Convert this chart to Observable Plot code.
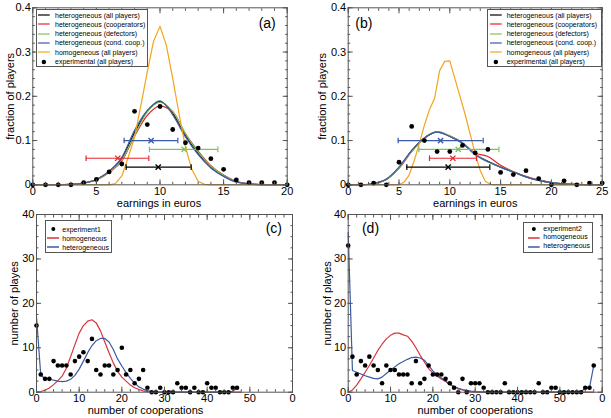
<!DOCTYPE html>
<html><head><meta charset="utf-8">
<script src="https://cdn.jsdelivr.net/npm/d3@7"></script>
<script src="https://cdn.jsdelivr.net/npm/@observablehq/plot@0.6"></script>
<style>
body{margin:0;background:#fff;}
#wrap{position:relative;width:611px;height:418px;overflow:hidden;background:#fff;font-family:"Liberation Sans",Arial,sans-serif;color:#000;}
.panel{position:absolute;}
.leg{position:absolute;border:1px solid #555;background:#fff;box-sizing:border-box;}
.leg .t{position:absolute;white-space:nowrap;}
</style>
</head><body><div id="wrap"></div>
<script>
// ---------- Panel (a) data ----------
const aExpX = [0,1,2,3,4,5,6,7,8,9,10,11,12,13,14,15,16,17,18,19,20];
const aExpY = [0,0,0,0,0.005,0.012,0.029,0.047,0.166,0.136,0.177,0.125,0.095,0.083,0.059,0.035,0.011,0.005,0.005,0.005,0];
const aHetX = [0,1,2,3,4,5,6,7,8,9,10,11,12,13,14,15,16,17,18,19,20];
const aHetAll  = [0,0,0,0.001,0.004,0.012,0.030,0.060,0.118,0.166,0.188,0.162,0.112,0.071,0.040,0.020,0.007,0.002,0,0,0];
const aHetCoop = [0,0,0,0.001,0.004,0.011,0.028,0.054,0.110,0.157,0.178,0.165,0.115,0.076,0.043,0.022,0.008,0.002,0.001,0,0];
const aHetDef  = [0,0,0,0.001,0.004,0.012,0.029,0.056,0.112,0.165,0.186,0.166,0.116,0.074,0.042,0.021,0.008,0.002,0.001,0,0];
const aHetCond = [0,0,0,0.001,0.004,0.012,0.031,0.062,0.123,0.168,0.190,0.158,0.108,0.068,0.038,0.019,0.006,0.002,0,0,0];
const aHomX = [0,6,6.5,7,7.5,8,8.5,9,9.5,10,10.5,11,11.5,12,12.5,13,13.5,14,20];
const aHomY = [0,0,0.003,0.02,0.062,0.108,0.18,0.255,0.325,0.358,0.315,0.24,0.16,0.085,0.035,0.008,0.001,0,0];
const aErrY   = [0.04,0.06,0.08,0.10];
const aErrLo  = [7.34,4.19,9.17,7.18];
const aErrMid = [9.86,6.68,11.9,9.3];
const aErrHi  = [12.45,9.12,14.55,11.4];

// ---------- Panel (b) data ----------
const bExpX = [0,1.25,2.5,3.75,5,6.25,7.5,8.75,10,11.25,12.5,13.75,15,16.25,17.5,18.75,20,21.25,22.5,23.75,25];
const bExpY = [0,0,0.004,0,0.051,0.132,0.1,0.075,0.075,0.089,0.072,0.08,0.028,0.023,0.032,0.014,0,0.009,0,0.004,0.004];
const bHetX = [0,1.25,2.5,3.75,5,6.25,7.5,8.75,10,11.25,12.5,13.75,15,16.25,17.5,18.75,20,21.25,22.5,23.75,25];
const bHetAll  = [0,0,0.003,0.012,0.039,0.077,0.106,0.119,0.110,0.094,0.069,0.053,0.040,0.029,0.018,0.010,0.005,0.002,0.001,0,0];
const bHetCoop = [0,0,0.003,0.012,0.037,0.075,0.105,0.120,0.110,0.095,0.072,0.064,0.044,0.030,0.019,0.011,0.005,0.002,0.001,0,0];
const bHetDef  = [0,0,0.003,0.012,0.038,0.076,0.105,0.120,0.111,0.095,0.070,0.052,0.040,0.029,0.018,0.010,0.005,0.002,0.001,0,0];
const bHetCond = [0,0,0.003,0.013,0.040,0.078,0.106,0.119,0.109,0.094,0.068,0.052,0.040,0.029,0.018,0.010,0.005,0.002,0.001,0,0];
const bHomX = [0,5,5.5,6,6.5,7,7.5,8,8.5,9,9.5,10,10.5,11,11.5,12,12.5,13,13.5,14,14.5,25];
const bHomY = [0,0,0.006,0.022,0.055,0.093,0.135,0.17,0.195,0.258,0.279,0.28,0.24,0.2,0.16,0.115,0.07,0.032,0.008,0.001,0,0];
const bErrY   = [0.04,0.06,0.08,0.10];
const bErrLo  = [5.77,8.0,6.96,4.92];
const bErrMid = [9.84,10.3,10.83,9.09];
const bErrHi  = [13.94,12.63,14.83,13.29];

// ---------- Panel (c) data (x = number of cooperations 0..47) ----------
const cExpY = [15,4,3,3,7,6,6,6,4,7,8,9,7,12,5,4,6,6,4,5,10,4,5,2,3,5,1,0,0,1,0,0,0,2,1,1,0,1,0,0,2,1,1,0,0,0,1,1];
const cHom  = [0,0.15,0.45,0.95,1.7,2.6,3.6,5.4,8.0,10.7,13.3,15.0,16.0,16.3,15.6,13.8,11.3,8.9,6.6,4.7,3.4,2.5,1.6,1.0,0.6,0.3,0.15,0.05,0,
               0,0,0,0,0,0,0,0,0,0,0,0,0,0,0,0,0,0,0,0];
const cHet  = [17,3.8,3.1,3.0,2.7,2.5,2.4,2.5,2.9,3.8,5.2,7.0,8.9,10.5,11.6,12.1,12.1,11.3,9.6,7.5,5.9,4.4,3.1,2.0,1.2,0.7,0.35,0.15,0.05,
               0,0,0,0,0,0,0,0,0,0,0,0,0,0,0,0,0,0.2,1];

// ---------- Panel (d) data (x = number of cooperations 0..58) ----------
const dExpY = [33,8,4,7,6,8,6,5,2,6,5,5,4,4,4,2,7,2,3,6,4,4,4,3,2,1,0,3,0,2,2,2,1,0,0,0,0,2,0,0,0,0,0,0,0,2,0,0,1,1,0,0,0,0,0,0,1,1,6];
const dHom  = [0,0.5,1.6,3.0,4.5,6.0,7.7,9.4,10.8,12.0,12.8,13.3,13.3,12.9,12.6,11.5,10.0,8.3,6.8,5.3,4.3,3.6,3.0,2.4,1.8,1.2,0.8,0.5,0.25,0.1,0.05,
               0,0,0,0,0,0,0,0,0,0,0,0,0,0,0,0,0,0,0,0,0,0,0,0,0,0,0,0];
const dHet  = [36,4.9,4.5,4.1,3.7,3.4,3.1,3.0,3.4,4.2,5.0,5.7,6.4,6.9,7.4,7.8,7.9,7.7,7.2,6.0,4.8,3.9,3.2,2.5,1.8,1.3,0.9,0.6,0.4,0.25,0.15,0.1,0.05,
               0,0,0,0,0,0,0,0,0,0,0,0,0,0,0,0,0,0,0,0,0,0,0,1,1,6];

// ---------- labels ----------
const legendAB = ["heterogeneous (all players)","heterogeneous (cooperators)","heterogeneous (defectors)","heterogeneous (cond. coop.)","homogeneous (all players)","experimental (all players)"];
const legendC = ["experiment1","homogeneous","heterogeneous"];
const legendD = ["experiment2","homogeneous","heterogeneous"];

// ---------- styles ----------
const cBlack="#000000", cRed="#e3262d", cGreen="#7cc35b", cBlue="#3d5aa8", cOrange="#f4a31c";
const cRed2="#d8343b", cBlue2="#3b5aa5";
const errCols = [cBlack, cRed, cGreen, cBlue];
const LW = 1.2;

const vbar = {draw(ctx, size){ const r = Math.sqrt(size/Math.PI); ctx.moveTo(0,-r); ctx.lineTo(0,r); }};

function lineMark(xs, ys, color, curve){
  return Plot.line(ys, {x:(d,i)=>xs[i], y:d=>d, stroke:color, strokeWidth:LW, curve: curve || "linear"});
}
function lineIdx(ys, color){
  return Plot.line(ys, {x:(d,i)=>i, y:d=>d, stroke:color, strokeWidth:LW});
}
function errorBars(ys, lo, mid, hi){
  const m = [];
  ys.forEach((y,i)=>{
    m.push(Plot.ruleY([y], {y:d=>d, x1:()=>lo[i], x2:()=>hi[i], stroke:errCols[i], strokeWidth:LW}));
    m.push(Plot.dot([lo[i],hi[i]], {x:d=>d, y:()=>y, r:2.8, symbol:vbar, stroke:errCols[i], fill:"none", strokeWidth:LW}));
    m.push(Plot.dot([mid[i]], {x:d=>d, y:()=>y, r:2.5, symbol:"times", stroke:errCols[i], fill:"none", strokeWidth:1.4}));
  });
  return m;
}

function makePanel(cfg){
  const tc = "#555";
  const blank = () => "";
  const marks = [
    ...cfg.marks,
    Plot.frame({stroke:tc}),
    Plot.axisX({anchor:"bottom", ticks:cfg.xMinor, tickSize:-2.5, tickFormat:blank, stroke:tc, label:null}),
    Plot.axisX({anchor:"top", ticks:cfg.xMinor, tickSize:-2.5, tickFormat:blank, stroke:tc, label:null}),
    Plot.axisX({anchor:"bottom", ticks:cfg.xMajor, tickSize:-5, tickPadding:7, tickFormat:cfg.xFmt, stroke:tc, label:null}),
    Plot.axisX({anchor:"top", ticks:cfg.xMajor, tickSize:-5, tickFormat:blank, stroke:tc, label:null}),
    Plot.axisY({anchor:"left", ticks:cfg.yMinor, tickSize:-2.5, tickFormat:blank, stroke:tc, label:null}),
    Plot.axisY({anchor:"right", ticks:cfg.yMinor, tickSize:-2.5, tickFormat:blank, stroke:tc, label:null}),
    Plot.axisY({anchor:"left", ticks:cfg.yMajor, tickSize:-5, tickPadding:7, tickFormat:cfg.yFmt, stroke:tc, label:null}),
    Plot.axisY({anchor:"right", ticks:cfg.yMajor, tickSize:-5, tickFormat:blank, stroke:tc, label:null}),
    Plot.text([cfg.xTitle], {text:d=>d, frameAnchor:"bottom", dx:cfg.xTitleDx, dy:cfg.xTitleDy, fontSize:11, textAnchor:"middle", lineAnchor:"middle"}),
    Plot.text([cfg.yTitle], {text:d=>d, frameAnchor:"left", dx:cfg.yTitleDx, rotate:-90, fontSize:11, textAnchor:"middle", lineAnchor:"middle"}),
    Plot.text([cfg.tag], {text:d=>d, frameAnchor:"top-left", dx:cfg.tagDx, dy:cfg.tagDy, fontSize:14, textAnchor:"middle", lineAnchor:"middle"})
  ];
  const svg = Plot.plot({
    width:cfg.width, height:cfg.height,
    marginLeft:cfg.ml, marginRight:cfg.mr, marginTop:cfg.mt, marginBottom:cfg.mb,
    x:{domain:cfg.xDomain, label:null},
    y:{domain:cfg.yDomain, label:null},
    style:{background:"transparent", fontFamily:"'Liberation Sans', Arial, sans-serif", fontSize:"11px", color:"#000", overflow:"visible"},
    marks
  });
  const holder = document.createElement("div");
  holder.className = "panel";
  holder.style.left = cfg.left + "px";
  holder.style.top = cfg.top + "px";
  holder.appendChild(svg);
  document.getElementById("wrap").appendChild(holder);
}

function legend(cfg){
  const ns = "http://www.w3.org/2000/svg";
  const box = document.createElement("div");
  box.className = "leg";
  Object.assign(box.style, {left:cfg.left+"px", top:cfg.top+"px", width:cfg.width+"px", height:cfg.height+"px"});
  cfg.items.forEach((it,i)=>{
    const cy = cfg.padTop + cfg.rowH*(i+0.5);
    const s = document.createElementNS(ns,"svg");
    s.setAttribute("width", cfg.swW); s.setAttribute("height", 8);
    Object.assign(s.style, {position:"absolute", left:cfg.swLeft+"px", top:(cy-4)+"px"});
    if (it.type === "dot") {
      const c = document.createElementNS(ns,"circle");
      c.setAttribute("cx", cfg.swW/2); c.setAttribute("cy", 4); c.setAttribute("r", cfg.dotR); c.setAttribute("fill", "#000");
      s.appendChild(c);
    } else {
      const l = document.createElementNS(ns,"line");
      l.setAttribute("x1",0); l.setAttribute("x2",cfg.swW); l.setAttribute("y1",4); l.setAttribute("y2",4);
      l.setAttribute("stroke", it.color); l.setAttribute("stroke-width", cfg.lw);
      if (cfg.lop) l.setAttribute("stroke-opacity", cfg.lop);
      s.appendChild(l);
    }
    box.appendChild(s);
    const t = document.createElement("div");
    t.className = "t";
    t.textContent = it.label;
    Object.assign(t.style, {left:cfg.textLeft+"px", top:(cy - cfg.rowH/2)+"px", lineHeight:cfg.rowH+"px", fontSize:cfg.fs+"px"});
    box.appendChild(t);
  });
  document.getElementById("wrap").appendChild(box);
}

const fmt1 = d => d === 0 ? "0" : d3.format(".1f")(d);
const fmtCoop = d => d === 60 ? "0" : String(d);

// Panel (a)
makePanel({
  left:0, top:0, width:305, height:205, ml:32.3, mr:18.3, mt:7.3, mb:20.7,
  xDomain:[0,20], yDomain:[0,0.4],
  xMajor:[0,5,10,15,20], xMinor:d3.range(0,20.01,1),
  yMajor:[0,0.1,0.2,0.3,0.4], yMinor:d3.range(0,0.401,0.02),
  xFmt:String, yFmt:fmt1,
  xTitle:"earnings in euros", xTitleDx:-1, xTitleDy:18.3,
  yTitle:"fraction of players", yTitleDx:-22.3,
  tag:"(a)", tagDx:234.4, tagDy:16,
  marks:[
    lineMark(aHetX, aHetAll, cBlack, "monotone-x"),
    lineMark(aHetX, aHetCoop, cRed, "monotone-x"),
    lineMark(aHetX, aHetDef, cGreen, "monotone-x"),
    lineMark(aHetX, aHetCond, cBlue, "monotone-x"),
    lineMark(aHomX, aHomY, cOrange),
    ...errorBars(aErrY, aErrLo, aErrMid, aErrHi),
    Plot.dot(aExpY, {x:(d,i)=>aExpX[i], y:d=>d, r:2.4, fill:"#000"})
  ]
});

// Panel (b)
makePanel({
  left:305, top:0, width:306, height:205, ml:42.7, mr:9.3, mt:7.3, mb:20.7,
  xDomain:[0,25], yDomain:[0,0.4],
  xMajor:[0,5,10,15,20,25], xMinor:d3.range(0,25.01,1),
  yMajor:[0,0.1,0.2,0.3,0.4], yMinor:d3.range(0,0.401,0.02),
  xFmt:String, yFmt:fmt1,
  xTitle:"earnings in euros", xTitleDx:0, xTitleDy:18.3,
  yTitle:"fraction of players", yTitleDx:-26,
  tag:"(b)", tagDx:15.6, tagDy:16,
  marks:[
    lineMark(bHetX, bHetAll, cBlack, "monotone-x"),
    lineMark(bHetX, bHetCoop, cRed, "monotone-x"),
    lineMark(bHetX, bHetDef, cGreen, "monotone-x"),
    lineMark(bHetX, bHetCond, cBlue, "monotone-x"),
    lineMark(bHomX, bHomY, cOrange),
    ...errorBars(bErrY, bErrLo, bErrMid, bErrHi),
    Plot.dot(bExpY, {x:(d,i)=>bExpX[i], y:d=>d, r:2.4, fill:"#000"})
  ]
});

// Panel (c)
makePanel({
  left:0, top:205, width:305, height:213, ml:36, mr:13, mt:9, mb:26.3,
  xDomain:[0,60], yDomain:[0,40],
  xMajor:[0,10,20,30,40,50,60], xMinor:d3.range(0,60.01,2),
  yMajor:[0,10,20,30,40], yMinor:d3.range(0,40.01,2.5),
  xFmt:fmtCoop, yFmt:String,
  xTitle:"number of cooperations", xTitleDx:-19, xTitleDy:17.8,
  yTitle:"number of playes", yTitleDx:-22,
  tag:"(c)", tagDx:237.3, tagDy:14.3,
  marks:[
    lineIdx(cHom, cRed2),
    lineIdx(cHet, cBlue2),
    Plot.dot(cExpY, {x:(d,i)=>i, y:d=>d, r:2.3, fill:"#000"})
  ]
});

// Panel (d)
makePanel({
  left:305, top:205, width:306, height:213, ml:42.7, mr:9.3, mt:9, mb:26.3,
  xDomain:[0,60], yDomain:[0,40],
  xMajor:[0,10,20,30,40,50,60], xMinor:d3.range(0,60.01,2),
  yMajor:[0,10,20,30,40], yMinor:d3.range(0,40.01,2.5),
  xFmt:fmtCoop, yFmt:String,
  xTitle:"number of cooperations", xTitleDx:0, xTitleDy:17.8,
  yTitle:"number of playes", yTitleDx:-20.4,
  tag:"(d)", tagDx:22.3, tagDy:14.3,
  marks:[
    lineIdx(dHom, cRed2),
    lineIdx(dHet, cBlue2),
    Plot.dot(dExpY, {x:(d,i)=>i, y:d=>d, r:2.3, fill:"#000"})
  ]
});

const abItems = [
  {type:"line", color:cBlack, label:legendAB[0]},
  {type:"line", color:cRed, label:legendAB[1]},
  {type:"line", color:cGreen, label:legendAB[2]},
  {type:"line", color:cBlue, label:legendAB[3]},
  {type:"line", color:cOrange, label:legendAB[4]},
  {type:"dot", label:legendAB[5]}
];
legend({left:35.7, top:9, width:112.7, height:58, padTop:0.5, rowH:9.33, swLeft:1.6, swW:11.7, textLeft:18.3, fs:7, dotR:2.2, lw:1.2, items:abItems});
legend({left:486.7, top:9, width:115, height:58, padTop:0.5, rowH:9.33, swLeft:2.3, swW:11.7, textLeft:19, fs:7, dotR:2.2, lw:1.2, items:abItems});
legend({left:45, top:220, width:66.7, height:33.3, padTop:3.5, rowH:9, swLeft:0.7, swW:12.6, textLeft:16.3, fs:7, dotR:2, lw:2, lop:0.75, items:[
  {type:"dot", label:legendC[0]}, {type:"line", color:cRed2, label:legendC[1]}, {type:"line", color:cBlue2, label:legendC[2]}]});
legend({left:523.3, top:221.7, width:70, height:31.6, padTop:1.9, rowH:8.85, swLeft:4, swW:11.7, textLeft:19, fs:7, dotR:2, lw:2, lop:0.75, items:[
  {type:"dot", label:legendD[0]}, {type:"line", color:cRed2, label:legendD[1]}, {type:"line", color:cBlue2, label:legendD[2]}]});
</script>
</body></html>
